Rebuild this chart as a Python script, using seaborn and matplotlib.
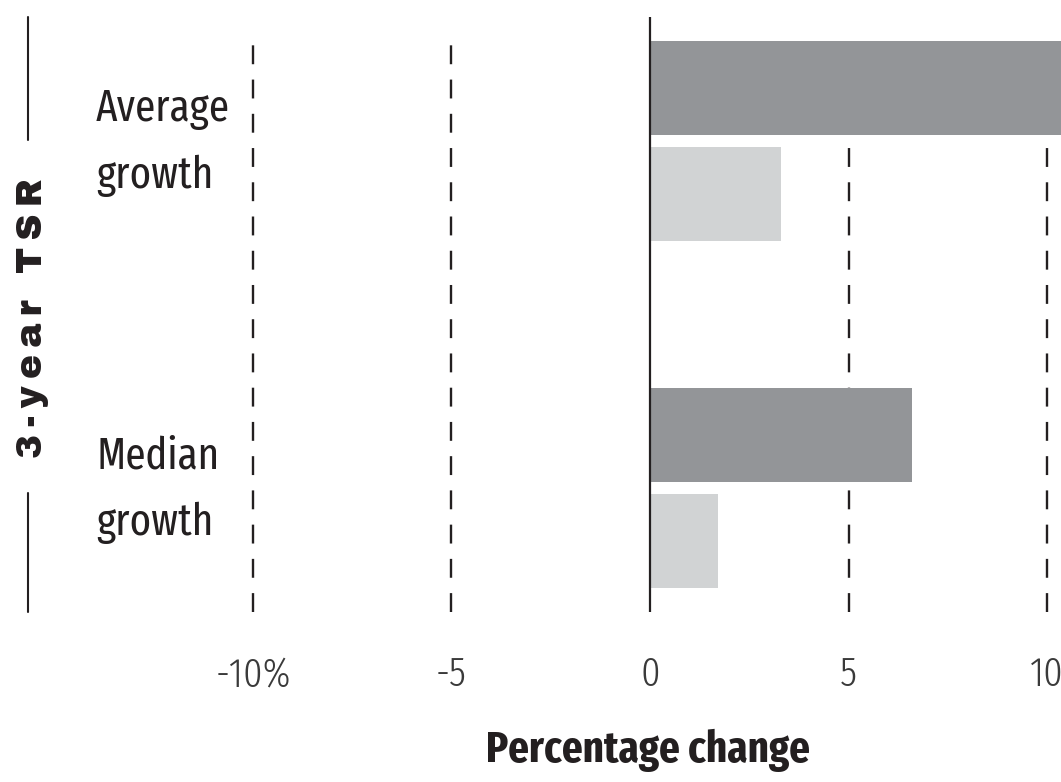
import matplotlib
matplotlib.use("Agg")
import matplotlib.pyplot as plt
from matplotlib.lines import Line2D
import seaborn as sns
import pandas as pd

# Data
categories = ["Average\ngrowth", "Median\ngrowth"]
series = ["Group A", "Group B"]
group_a = [10.9, 6.6]
group_b = [3.3, 1.7]
tick_values = [-10, -5, 0, 5, 10]
tick_labels = ["-10%", "-5", "0", "5", "10"]
bracket_label = "3-year TSR"
x_label = "Percentage change"

df = pd.DataFrame({
    "category": categories * 2,
    "series": [series[0]] * 2 + [series[1]] * 2,
    "value": group_a + group_b,
})

sns.set_style("white")
narrow = ["Fira Sans Extra Condensed", "DejaVu Sans"]
plt.rcParams["font.family"] = narrow
ink = "#231f20"

fig = plt.figure(figsize=(10.61, 7.82), dpi=100)
ax = fig.add_axes([0, 0.2174, 1, 0.7609])

sns.barplot(data=df, y="category", x="value", hue="series", orient="h",
            palette=["#939598", "#d1d3d4"], saturation=1, width=0.61, gap=0.115,
            linewidth=0, legend=False, ax=ax, zorder=2)

ax.set_xlim(-16.37, 10.35)
ax.set_ylim(1.357, -0.358)

# dashed gridlines and solid zero line
for v in tick_values:
    if v == 0:
        ax.axvline(v, color=ink, lw=1.6, zorder=3)
    else:
        ax.axvline(v, ymin=0, ymax=0.978, color=ink, lw=1.7,
                   linestyle=(0, (8, 6.5)), zorder=1)

ax.set_xticks(tick_values)
ax.set_xticklabels(tick_labels, fontsize=30, color="#3a3a3a", fontweight=300)
ax.tick_params(axis="x", length=0, pad=31)
ax.set_yticks([])
ax.set_ylabel("")
ax.set_xlabel(x_label, fontsize=32, fontweight="bold", color=ink)
ax.xaxis.set_label_coords(648 / 1061, -0.196)
for s in ax.spines.values():
    s.set_visible(False)

# category labels
for i, cat in enumerate(categories):
    ax.text(-13.95, i + 0.005, cat, fontsize=32, color=ink, ha="left", va="center",
            linespacing=1.72)

# rotated bracket label on the left, lightly tracked
fig.text(32 / 1061, 1 - 318 / 782, "\u2009".join(bracket_label), rotation=90,
         ha="center", va="center", fontsize=26, color=ink,
         family=["Archivo Black", "DejaVu Sans"])
fig.add_artist(Line2D([28 / 1061] * 2, [1 - 17 / 782, 1 - 140 / 782], color=ink, lw=1.5))
fig.add_artist(Line2D([28 / 1061] * 2, [1 - 493 / 782, 1 - 612 / 782], color=ink, lw=1.5))

fig.savefig("out.png", dpi=100)
